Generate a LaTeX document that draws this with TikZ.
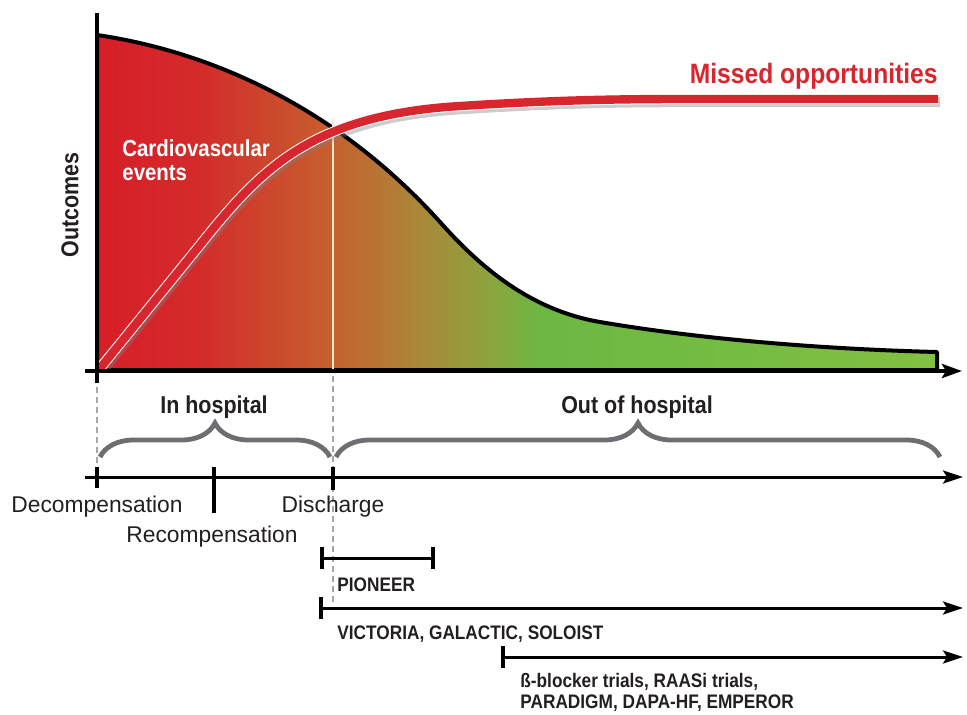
\documentclass[tikz,border=0pt]{standalone}
\usepackage{fontspec}
\setmainfont{Liberation Sans}
\newfontfamily\condfont{Liberation Sans}[FakeStretch=0.88]
\usetikzlibrary{arrows.meta, decorations.pathreplacing, positioning}

\definecolor{txtblack}{HTML}{231F20}
\definecolor{missred}{HTML}{D7262E}
\definecolor{bracegray}{HTML}{6D6E71}
\definecolor{evA}{HTML}{D71E28}
\definecolor{evB}{HTML}{D42B2A}
\definecolor{evC}{HTML}{C6602F}
\definecolor{evD}{HTML}{A88A39}
\definecolor{evE}{HTML}{8FA13D}
\definecolor{evF}{HTML}{6CB843}
\definecolor{evG}{HTML}{74BC42}
\definecolor{evH}{HTML}{82C042}

% red -> green along the time axis
\pgfdeclarehorizontalshading{eventshade}{100bp}{color(0bp)=(evA); color(25bp)=(evA);
  color(31bp)=(evB); color(39bp)=(evC); color(44.5bp)=(evD); color(48bp)=(evE);
  color(51.5bp)=(evF); color(62.5bp)=(evG); color(75bp)=(evH); color(100bp)=(evH)}

\begin{document}
\begin{tikzpicture}[x=0.5pt, y=-0.5pt,
    every node/.style={inner sep=0pt},
    axisline/.style={line width=2pt, -{Stealth[length=10pt, width=7pt, inset=2pt]}},
    timeline/.style={line width=1.5pt, -{Stealth[length=10pt, width=6.5pt, inset=2pt]}},
    tickmark/.style={line width=2pt},
    guide/.style={gray!70, line width=0.6pt, dash pattern=on 3pt off 2pt},
    hospbrace/.style={bracegray, line width=2.4pt, decorate, decoration={brace, amplitude=17pt}},
    headtxt/.style={font=\condfont\bfseries\fontsize{12.2}{14}\selectfont, text=txtblack, anchor=base},
    labeltxt/.style={font=\fontsize{11.4}{13}\selectfont, text=txtblack, anchor=base},
    trialtxt/.style={font=\condfont\bfseries\fontsize{9.8}{11}\selectfont, text=txtblack, anchor=base west},
    redshadow/.style={black!50, opacity=0.4, line width=5.2pt, shift={(2,3)}},
    redrim/.style={white, line width=5.2pt},
    redcore/.style={missred, line width=4.2pt}]

    \useasboundingbox (0,0) rectangle (967,714);

    % Cardiovascular events (area under the curve)
    \shade[shading=eventshade, draw=black, line width=2pt, line join=round]
        (97,370) -- (97,35) .. controls (200,50) and (330,100) .. (440,222)
        .. controls (480,267) and (530,310) .. (600,322)
        .. controls (700,339) and (820,349) .. (937,352) -- (937,370) -- cycle;

    % Discharge
    \draw[white!80!orange, line width=1pt] (333,369) -- (333,119);

    % Missed opportunities
    \begin{scope}
        \clip (97,0) rectangle (967,370);
        \foreach \sty in {redshadow, redrim, redcore}
            \draw[\sty] (97,372) -- (200,245) .. controls (260,170) and (310,115) .. (460,106)
                .. controls (540,101) and (600,99) .. (680,99) -- (938,99);
    \end{scope}

    % Eixos
    \draw[axisline] (85,371) -- (962,371);
    \draw[line width=2pt] (97,383) -- (97,13);

    \node[headtxt, rotate=90, anchor=center] (outcomes) at (70,205) {Outcomes};
    \node[font=\condfont\bfseries\fontsize{14}{16}\selectfont, text=missred, anchor=base east]
        (missed) at (938,83) {Missed opportunities};
    \node[font=\condfont\bfseries\fontsize{11.6}{12}\selectfont, text=white, align=left, anchor=north west]
        (cvevents) at (122,139) {Cardiovascular\\events};

    % Guias
    \draw[guide] (97,387) -- (97,467);
    \draw[guide] (333,376) -- (333,602);

    % In hospital / out of hospital
    \draw[hospbrace] (100,457) -- (330,457);
    \draw[hospbrace] (336,457) -- (940,457);
    \node[headtxt] (inhosp) at (214,413) {In hospital};
    \node[headtxt] (outhosp) at (637,413) {Out of hospital};

    % Timeline
    \draw[timeline] (85,477) -- (963,477);
    \coordinate (decomp) at (97,477);
    \coordinate (recomp) at (214,477);
    \coordinate (disch) at (333,477);
    \draw[tickmark] (97,467) -- (97,488);
    \draw[tickmark] (214,467) -- (214,513);
    \draw[tickmark] (333,467) -- (333,490);
    \node[labeltxt] (decomplbl) at (97,512) {Decompensation};
    \node[labeltxt] (recomplbl) at (212,542) {Recompensation};
    \node[labeltxt] (dischlbl) at (333,512) {Discharge};

    % Trials
    \draw[line width=1.5pt] (322,558) -- (433,558);
    \draw[tickmark] (322,547) -- (322,569);
    \draw[tickmark] (433,547) -- (433,569);
    \node[trialtxt] (pioneer) at (337,591) {PIONEER};

    \draw[timeline] (321,608) -- (963,608);
    \draw[tickmark] (321,597) -- (321,619);
    \node[trialtxt] (victoria) at (337,639) {VICTORIA, GALACTIC, SOLOIST};

    \draw[timeline] (503,657) -- (963,657);
    \draw[tickmark] (503,646) -- (503,668);
    \node[trialtxt] (bblock) at (520,687) {ß-blocker trials, RAASi trials,};
    \node[trialtxt] (paradigm) at (520,708) {PARADIGM, DAPA-HF, EMPEROR};

\end{tikzpicture}
\end{document}
